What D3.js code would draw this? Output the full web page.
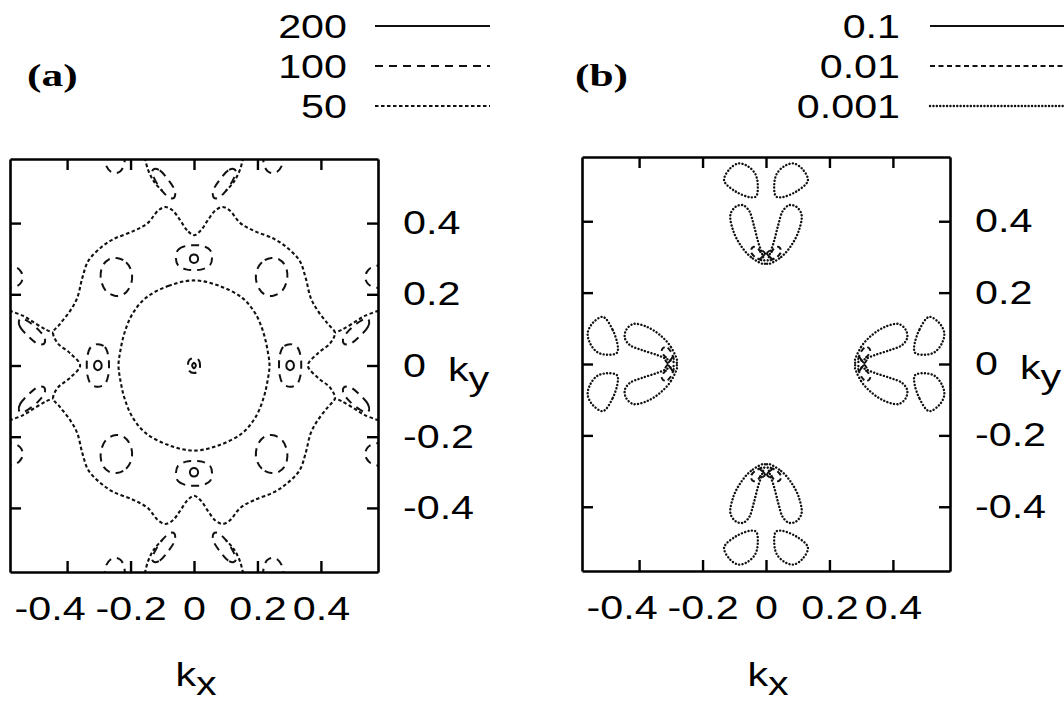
<!DOCTYPE html>
<html>
<head>
<meta charset="utf-8">
<script src="https://cdn.jsdelivr.net/npm/d3@7"></script>
<style>
body { margin: 0; background: #fff; }
text { font-family: "Liberation Sans", Arial, sans-serif; fill: #000; }
</style>
</head>
<body>
<svg id="fig" width="1064" height="702"></svg>
<script>
// axes
var k_domain = [-0.58, 0.58]
var tick_values = [-0.4, -0.2, 0, 0.2, 0.4]
var tick_labels = ['-0.4', '-0.2', '0', '0.2', '0.4']

// contour levels in the keys
var levels_a = ['200', '100', '50']
var levels_b = ['0.1', '0.01', '0.001']

// ---- panel (a): curves, upper-left quadrant (kx<=0, ky>=0)
// level 50, outer ring: from the dip on top (kx=0) to the notch on the left (ky=0)
var ring_outer_q = [[0, 0.366], [-0.022, 0.38], [-0.045, 0.41], [-0.068, 0.436], [-0.09, 0.445], [-0.112, 0.436],
    [-0.146, 0.40], [-0.19, 0.378], [-0.254, 0.355], [-0.295, 0.33], [-0.333, 0.294], [-0.352, 0.246],
    [-0.368, 0.19], [-0.39, 0.154], [-0.422, 0.117], [-0.444, 0.092], [-0.429, 0.062], [-0.39, 0.034],
    [-0.359, 0]]
// level 50, inner ring
var ring_inner_q = [[0, 0.239], [-0.079, 0.224], [-0.152, 0.19], [-0.194, 0.145], [-0.219, 0.092],
    [-0.232, 0.042], [-0.238, 0]]
// level 50, running in from the frame
var edge_lines_q = [
    [[-0.159, 0.6], [-0.145, 0.55], [-0.125, 0.515], [-0.1, 0.49]],
    [[-0.6, 0.159], [-0.54, 0.14], [-0.5, 0.118], [-0.465, 0.1], [-0.444, 0.092]]
]
// level 100, closed loops in the quadrant
var loops_100_q = [
    // round one on the diagonal
    [[-0.244, 0.302], [-0.214, 0.29], [-0.196, 0.26], [-0.2, 0.225], [-0.222, 0.2], [-0.25, 0.196],
        [-0.278, 0.21], [-0.294, 0.245], [-0.288, 0.28], [-0.268, 0.298]],
    // tilted ones next to the saddles
    [[-0.125, 0.552], [-0.108, 0.548], [-0.08, 0.52], [-0.06, 0.49], [-0.062, 0.472], [-0.075, 0.47],
        [-0.1, 0.49], [-0.125, 0.525], [-0.132, 0.545]],
    [[-0.552, 0.125], [-0.548, 0.108], [-0.52, 0.08], [-0.49, 0.06], [-0.472, 0.062], [-0.47, 0.075],
        [-0.49, 0.1], [-0.525, 0.125], [-0.545, 0.132]]
]
// level 100, arcs cut by the frame
var arcs_100_q = [
    [[-0.284, 0.6], [-0.276, 0.56], [-0.263, 0.545], [-0.248, 0.54], [-0.233, 0.545], [-0.222, 0.56], [-0.216, 0.6]],
    [[-0.6, 0.284], [-0.56, 0.276], [-0.545, 0.263], [-0.54, 0.248], [-0.545, 0.233], [-0.56, 0.222], [-0.6, 0.216]]
]
// level 100 boxes on the axes (top and left one)
var box_top_100 = [[-0.057, 0.303], [-0.05, 0.325], [-0.025, 0.336], [0, 0.338], [0.025, 0.336], [0.05, 0.325],
    [0.057, 0.303], [0.05, 0.281], [0.025, 0.27], [0, 0.268], [-0.025, 0.27], [-0.05, 0.281]]
var box_left_100 = [[-0.303, 0.06], [-0.281, 0.052], [-0.27, 0.027], [-0.268, 0], [-0.27, -0.027], [-0.281, -0.052],
    [-0.303, -0.06], [-0.325, -0.052], [-0.336, -0.027], [-0.338, 0], [-0.336, 0.027], [-0.325, 0.052]]
// level 200 inside the boxes
var dot_top_200 = [[-0.013, 0.3], [-0.009, 0.309], [0, 0.312], [0.009, 0.309], [0.013, 0.3], [0.009, 0.291],
    [0, 0.288], [-0.009, 0.291]]
var dot_left_200 = [[-0.303, 0.013], [-0.294, 0.009], [-0.291, 0], [-0.294, -0.009], [-0.303, -0.013],
    [-0.312, -0.009], [-0.315, 0], [-0.312, 0.009]]
// centre
var centre_100 = [[0, 0.021], [0.015, 0.015], [0.019, 0], [0.015, -0.015], [0, -0.021], [-0.015, -0.015],
    [-0.019, 0], [-0.015, 0.015]]
var centre_200 = [[0, 0.008], [0.006, 0], [0, -0.008], [-0.006, 0]]

// ---- panel (b): left group, upper half (ky>=0)
var lobe_001 = [[-0.28, 0.004], [-0.3, 0.048], [-0.334, 0.081], [-0.375, 0.104], [-0.419, 0.112],
    [-0.441, 0.095], [-0.445, 0.073], [-0.429, 0.053], [-0.391, 0.039], [-0.343, 0.025], [-0.302, 0.01]]
var drop_001 = [[-0.514, 0.132], [-0.483, 0.095], [-0.467, 0.048], [-0.47, 0.031], [-0.502, 0.026],
    [-0.533, 0.034], [-0.555, 0.059], [-0.562, 0.087], [-0.546, 0.115]]
var hook_01 = [[-0.29, 0.012], [-0.3, 0.035], [-0.316, 0.048], [-0.328, 0.04], [-0.322, 0.024], [-0.306, 0.014]]
var cross_1 = [[-0.318, 0.012], [-0.31, 0.003], [-0.3, 0.012], [-0.294, 0.02]]

var svg = d3.select('#fig')
var text_sx = 1.25

var level_style = {
    '200': { dash: null, w: 2 },
    '100': { dash: '8,6', w: 2 },
    '50': { dash: '3.5,2.5', w: 2.1 },
    '0.1': { dash: null, w: 2 },
    '0.01': { dash: '5,3.5', w: 2 },
    '0.001': { dash: '0.1,3.3', w: 2.4, cap: 'round' }
}

var mirror = (pts, sx, sy) => pts.map(p => [p[0] * sx, p[1] * sy])
var quads = [[1, 1], [-1, 1], [1, -1], [-1, -1]]

// closed loop from a quarter that runs from the top axis to the left axis
var loop4 = q => q
    .concat(mirror(q, 1, -1).reverse().slice(1))
    .concat(mirror(q, -1, -1).slice(1))
    .concat(mirror(q, -1, 1).reverse().slice(1, -1))

// panel (a) contour list
var contours_a = []
contours_a.push({ pts: loop4(ring_outer_q), closed: true, level: '50' })
contours_a.push({ pts: loop4(ring_inner_q), closed: true, level: '50' })
quads.forEach(([sx, sy]) => {
    edge_lines_q.forEach(l => contours_a.push({ pts: mirror(l, sx, sy), closed: false, level: '50' }))
    loops_100_q.forEach(l => contours_a.push({ pts: mirror(l, sx, sy), closed: true, level: '100' }))
    arcs_100_q.forEach(l => contours_a.push({ pts: mirror(l, sx, sy), closed: false, level: '100' }))
})
;[1, -1].forEach(s => {
    contours_a.push({ pts: mirror(box_top_100, 1, s), closed: true, level: '100' })
    contours_a.push({ pts: mirror(box_left_100, s, 1), closed: true, level: '100' })
    contours_a.push({ pts: mirror(dot_top_200, 1, s), closed: true, level: '200' })
    contours_a.push({ pts: mirror(dot_left_200, s, 1), closed: true, level: '200' })
})
contours_a.push({ pts: centre_100, closed: true, level: '100' })
contours_a.push({ pts: centre_200, closed: true, level: '200' })

// panel (b): the left group and its three turned copies
var half_b = [
    { pts: lobe_001, closed: true, level: '0.001' },
    { pts: drop_001, closed: true, level: '0.001' },
    { pts: hook_01, closed: false, level: '0.01' },
    { pts: cross_1, closed: false, level: '0.1' }
]
var group_b = []
half_b.forEach(c => {
    group_b.push(c)
    group_b.push({ pts: mirror(c.pts, 1, -1), closed: c.closed, level: c.level })
})
var turns = [
    p => p,
    p => [-p[0], p[1]],
    p => [-p[1], -p[0]],
    p => [p[1], p[0]]
]
var contours_b = []
turns.forEach(t => group_b.forEach(c => contours_b.push({ pts: c.pts.map(t), closed: c.closed, level: c.level })))

var panels = [
    { name: 'a', left: 10, right: 378, top: 159, bottom: 572, contours: contours_a, levels: levels_a,
        key_x: 347, key_line: [375, 490], tag: '(a)', tag_x: 27 },
    { name: 'b', left: 582, right: 950, top: 157, bottom: 571, contours: contours_b, levels: levels_b,
        key_x: 900, key_line: [930, 1064], tag: '(b)', tag_x: 575 }
]
var key_rows = [26, 66, 106]

var style_path = (sel, level) => {
    var s = level_style[level]
    sel.attr('fill', 'none')
        .attr('stroke', '#111')
        .attr('stroke-width', s.w)
        .attr('stroke-dasharray', s.dash)
        .attr('stroke-linecap', s.cap || 'butt')
}

panels.forEach(p => {
    var x = d3.scaleLinear().domain(k_domain).range([p.left, p.right])
    var y = d3.scaleLinear().domain(k_domain).range([p.bottom, p.top])

    var clip_id = 'clip_' + p.name
    svg.append('clipPath').attr('id', clip_id)
        .append('rect')
        .attr('x', p.left).attr('y', p.top)
        .attr('width', p.right - p.left).attr('height', p.bottom - p.top)

    var open_line = d3.line().x(d => x(d[0])).y(d => y(d[1])).curve(d3.curveCatmullRom.alpha(0.5))
    var closed_line = d3.line().x(d => x(d[0])).y(d => y(d[1])).curve(d3.curveCatmullRomClosed.alpha(0.5))

    var plot = svg.append('g').attr('clip-path', 'url(#' + clip_id + ')')
    p.contours.forEach(c => {
        plot.append('path')
            .attr('d', c.closed ? closed_line(c.pts) : open_line(c.pts))
            .call(style_path, c.level)
    })

    // frame with inward ticks on all sides
    var axes = svg.append('g')
    var bottom = axes.append('g').attr('transform', `translate(0,${p.bottom})`)
        .call(d3.axisBottom(x).tickValues(tick_values).tickSizeInner(-11).tickSizeOuter(0).tickPadding(25)
            .tickFormat((d, i) => tick_labels[i]))
    axes.append('g').attr('transform', `translate(0,${p.top})`)
        .call(d3.axisTop(x).tickValues(tick_values).tickSizeInner(-11).tickSizeOuter(0).tickFormat(''))
    axes.append('g').attr('transform', `translate(${p.left},0)`)
        .call(d3.axisLeft(y).tickValues(tick_values).tickSizeInner(-11).tickSizeOuter(0).tickFormat(''))
    var right = axes.append('g').attr('transform', `translate(${p.right},0)`)
        .call(d3.axisRight(y).tickValues(tick_values).tickSizeInner(-11).tickSizeOuter(0)
            .tickFormat((d, i) => tick_labels[i]))

    axes.selectAll('.domain').attr('stroke', '#000').attr('stroke-width', 2.6)
    axes.selectAll('.tick line').attr('stroke', '#000').attr('stroke-width', 2.4)
    axes.selectAll('.tick text').attr('font-family', null).style('font-size', '33px').attr('fill', '#000')

    bottom.selectAll('.tick text')
        .attr('x', (d, i) => i === 0 ? -14 : 0)
        .attr('transform', `scale(${text_sx},1)`)
    right.selectAll('.tick text')
        .attr('x', 25 / text_sx)
        .attr('transform', `scale(${text_sx},1)`)

    // axis titles
    var kx = svg.append('text')
        .attr('transform', `translate(${x(0) + 2},686) scale(${text_sx},1)`)
        .attr('text-anchor', 'middle')
        .style('font-size', '33px')
    kx.append('tspan').text('k')
    kx.append('tspan').attr('dy', 9).text('x')

    var ky = svg.append('text')
        .attr('transform', `translate(${p.right + 70},${y(0) + 15}) scale(${text_sx},1)`)
        .style('font-size', '33px')
    ky.append('tspan').text('k')
    ky.append('tspan').attr('dy', 9).text('y')

    // panel tag
    svg.append('text')
        .attr('transform', `translate(${p.tag_x},86) scale(1.4,1)`)
        .style('font-family', '"Liberation Serif", "Times New Roman", serif')
        .style('font-weight', 'bold')
        .style('font-size', '31px')
        .text(p.tag)

    // key
    p.levels.forEach((lv, i) => {
        svg.append('text')
            .attr('transform', `translate(${p.key_x},${key_rows[i] + 12}) scale(${text_sx},1)`)
            .attr('text-anchor', 'end')
            .style('font-size', '33px')
            .text(lv)
        svg.append('line')
            .attr('x1', p.key_line[0]).attr('x2', p.key_line[1])
            .attr('y1', key_rows[i]).attr('y2', key_rows[i])
            .call(style_path, lv)
    })
})
</script>
</body>
</html>
